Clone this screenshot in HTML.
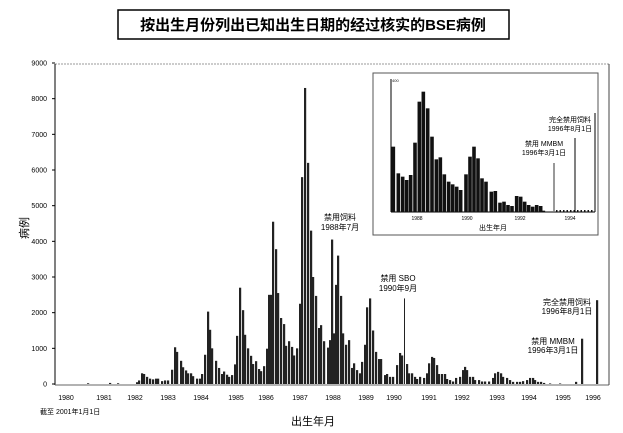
<!DOCTYPE html>
<html><head><meta charset="utf-8"><style>
body{margin:0;background:#fff;}
svg{display:block;font-family:"Liberation Sans","Noto Sans CJK SC",sans-serif;}
</style></head><body>
<svg id="s" width="623" height="433" viewBox="0 0 623 433" xmlns="http://www.w3.org/2000/svg">
<rect x="118" y="10" width="391" height="29" fill="#fff" stroke="#000" stroke-width="1.5"/>
<text x="313" y="30" font-size="15" font-weight="bold" text-anchor="middle" font-family="'Liberation Sans','Noto Sans CJK SC',sans-serif">按出生月份列出已知出生日期的经过核实的BSE病例</text>
<line x1="55" y1="64" x2="609" y2="64" stroke="#999" stroke-dasharray="2,1"/>
<line x1="55" y1="64" x2="55" y2="385" stroke="#000"/>
<line x1="55" y1="385" x2="609" y2="385" stroke="#666"/>
<line x1="609" y1="64" x2="609" y2="385" stroke="#444"/>
<g id="yt" font-size="7" text-anchor="end"></g>
<g id="xt" font-size="7" text-anchor="middle"></g>
<g id="bars" fill="#222"></g>
<text x="28" y="228" font-size="11" text-anchor="middle" transform="rotate(-90 28 228)">病例</text>
<text x="313" y="425" font-size="11" text-anchor="middle">出生年月</text>
<text x="40" y="414" font-size="7">截至 2001年1月1日</text>
<g font-size="8" text-anchor="middle">
<text x="340" y="220">禁用饲料</text><text x="340" y="230">1988年7月</text>
<text x="398" y="281">禁用 SBO</text><text x="398" y="291">1990年9月</text>
<text x="567" y="305">完全禁用饲料</text><text x="567" y="314">1996年8月1日</text>
<text x="553" y="344">禁用 MMBM</text><text x="553" y="353">1996年3月1日</text>
</g>
<rect x="373" y="73" width="225" height="162" fill="#fff" stroke="#555"/>
<line x1="391" y1="79" x2="391" y2="212" stroke="#000"/>
<line x1="391" y1="212" x2="595" y2="212" stroke="#000"/>
<line x1="595" y1="113" x2="595" y2="212" stroke="#000"/>
<g id="ib" fill="#111"></g>
<g font-size="5" text-anchor="middle"><text x="417" y="220">1988</text><text x="467" y="220">1990</text><text x="520" y="220">1992</text><text x="570" y="220">1994</text></g>
<text x="493" y="230" font-size="7" text-anchor="middle">出生年月</text>
<g font-size="7" text-anchor="middle">
<text x="570" y="122">完全禁用饲料</text><text x="570" y="131">1996年8月1日</text>
<text x="544" y="146">禁用 MMBM</text><text x="544" y="155">1996年3月1日</text>
</g>
<line x1="554" y1="163" x2="554" y2="212" stroke="#777" stroke-width="1.5"/>
<line x1="575" y1="138" x2="575" y2="212" stroke="#000"/>
</svg>
<script>
var NS="http://www.w3.org/2000/svg";
function el(p,t,a,txt){var e=document.createElementNS(NS,t);for(var k in a)e.setAttribute(k,a[k]);if(txt)e.textContent=txt;document.getElementById(p).appendChild(e);}
for(var v=0;v<=9000;v+=1000){var y=384-v*321/9000;el("yt","text",{x:47,y:y+2.5},String(v));el("yt","line",{x1:52,y1:y,x2:55,y2:y,stroke:"#000"});}
var yx=[66,104,135,168,201,236,266,300,333,366,394,429,462,497,529,563,593];
yx.forEach(function(x,i){el("xt","text",{x:x,y:400},String(1980+i));});
var d=[[88,20],[110,30],[118,20],[137,50],[139,100],[142,300],[144,280],[147,200],[150,150],[153,130],[156,150],[158,150],[162,80],[165,100],[168,100],[172,400],[175,1030],[177,900],[181,650],[183,470],[186,380],[188,300],[191,300],[193,220],[197,150],[200,150],[202,280],[205,820],[208,2030],[210,1520],[212,1000],[216,650],[219,450],[222,280],[224,350],[227,260],[229,200],[232,250],[235,550],[237,1350],[240,2700],[243,2070],[245,1380],[248,1000],[251,790],[253,560],[256,640],[259,420],[261,360],[264,500],[267,990],[269,2500],[271,2500],[273,4550],[276,3780],[278,2550],[281,1850],[284,1680],[286,1070],[289,1200],[292,1040],[294,800],[297,1000],[300,2250],[302,5800],[305,8300],[308,6200],[311,4300],[313,3000],[316,2470],[319,1570],[321,1650],[324,1200],[328,1020],[330,1230],[332,4050],[334,1420],[336,2780],[338,3600],[341,2470],[343,1420],[346,1100],[349,1230],[352,450],[354,580],[357,390],[360,300],[362,620],[365,1100],[367,2150],[370,2400],[373,1500],[376,900],[379,700],[381,700],[385,250],[387,280],[390,200],[393,200],[397,530],[400,870],[402,800],[405,2400],[407,560],[409,300],[412,300],[415,200],[417,140],[420,200],[424,170],[427,300],[429,580],[432,760],[434,730],[437,530],[439,280],[442,280],[445,280],[447,140],[450,110],[453,70],[456,170],[460,200],[463,390],[465,480],[467,390],[470,200],[473,200],[475,110],[479,110],[482,70],[485,70],[489,70],[493,170],[495,300],[498,340],[501,300],[503,200],[507,170],[510,110],[513,60],[517,60],[520,60],[523,80],[527,110],[530,170],[533,170],[535,110],[538,60],[541,60],[544,30],[550,15],[560,15],[576,60],[582,1270],[597,2350]];
d.forEach(function(p){var h=p[1]*321/9000;var w=(p[0]==405)?1:2.2;el("bars","rect",{x:p[0]-1,y:384-h,width:w,height:h});});
var ib=[[100,260],[115,340],[128,350],[140,360],[152,345],[165,248],[178,125],[190,95],[203,145],[216,230],[229,298],[241,292],[253,343],[266,365],[278,373],[290,380],[302,390],[318,343],[330,290],[342,260],[354,295],[366,355],[378,365],[394,395],[406,393],[420,428],[432,425],[444,435],[456,438],[470,408],[482,410],[494,425],[506,435],[518,440],[530,435],[542,438],[550,452]];
ib.forEach(function(p){var x=360+p[0]/3,y=60+p[1]/3;el("ib","rect",{x:x-1.8,y:y,width:3.6,height:212-y});});
for(var x=556;x<594;x+=3.5)el("ib","rect",{x:x,y:210,width:1.5,height:2});
el("ib","text",{x:392,y:82,"font-size":4},"400");
</script>
</body></html>
